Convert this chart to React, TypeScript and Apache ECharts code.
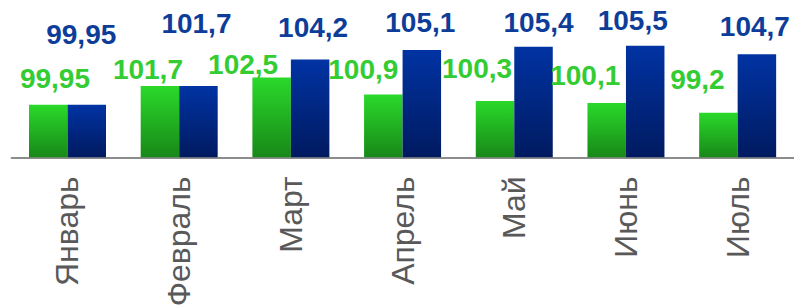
import React, { useEffect, useRef } from "react";
import * as echarts from "echarts";

const categories = ["Январь", "Февраль", "Март", "Апрель", "Май", "Июнь", "Июль"];
const greenValues = [99.95, 101.7, 102.5, 100.9, 100.3, 100.1, 99.2];
const blueValues = [99.95, 101.7, 104.2, 105.1, 105.4, 105.5, 104.7];

// label nudges (dx, dy) relative to the top-centre of each bar
const greenLabelNudge = [[6.7, -26], [-12, -17], [-28.5, -13.5], [-20, -25], [-18, -32], [-21.5, -28], [-21, -33.5]];
const blueLabelNudge = [[-5.5, -70.5], [-2, -62.5], [3, -32.5], [-1.5, -27.5], [5, -24.5], [-12.5, -25.5], [-2, -28]];

const FONT = "'Liberation Sans', Arial, sans-serif";
const fmt = (v: number) => String(v).replace(".", ",");

export default function App() {
  const ref = useRef<HTMLDivElement>(null);
  useEffect(() => {
    if (!ref.current) return;
    const chart = echarts.init(ref.current, undefined, { renderer: "svg" });
    const mk = (vals: number[], nudges: number[][], color: string) =>
      vals.map((v, i) => ({
        value: v,
        label: {
          show: true,
          position: "top",
          distance: 0,
          verticalAlign: "middle",
          offset: nudges[i],
          formatter: fmt(v),
          color,
          fontSize: 28,
          fontWeight: "bold",
          fontFamily: FONT,
        },
      }));
    chart.setOption({
      animation: false,
      grid: {
        left: 11.65,
        right: 0.5,
        top: 8.5,
        height: 148.8,
        containLabel: false,
        outerBoundsMode: "none",
      },
      xAxis: {
        type: "category",
        data: categories,
        axisLine: { show: true, lineStyle: { color: "#8c8c8c", width: 2 } },
        axisTick: { show: false },
        axisLabel: {
          rotate: 90,
          margin: 19,
          interval: 0,
          color: "#595959",
          fontSize: 32,
          fontFamily: FONT,
        },
      },
      yAxis: {
        type: "value",
        min: 95,
        max: 109,
        show: false,
        splitLine: { show: false },
      },
      series: [
        {
          type: "bar",
          barWidth: 38.5,
          barGap: "0%",
          data: mk(greenValues, greenLabelNudge, "#33cc33"),
          itemStyle: {
            color: new echarts.graphic.LinearGradient(0, 0, 0, 1, [
              { offset: 0, color: "#2ad92a" },
              { offset: 1, color: "#188818" },
            ]),
          },
        },
        {
          type: "bar",
          barWidth: 38.5,
          barGap: "0%",
          data: mk(blueValues, blueLabelNudge, "#0d3d99"),
          itemStyle: {
            color: new echarts.graphic.LinearGradient(0, 0, 0, 1, [
              { offset: 0, color: "#0033a3" },
              { offset: 1, color: "#001a60" },
            ]),
          },
        },
      ],
    });
    return () => chart.dispose();
  }, []);
  return (
    <div
      ref={ref}
      style={{ position: "fixed", left: 0, top: 0, width: 794, height: 305, background: "#fff" }}
    />
  );
}
